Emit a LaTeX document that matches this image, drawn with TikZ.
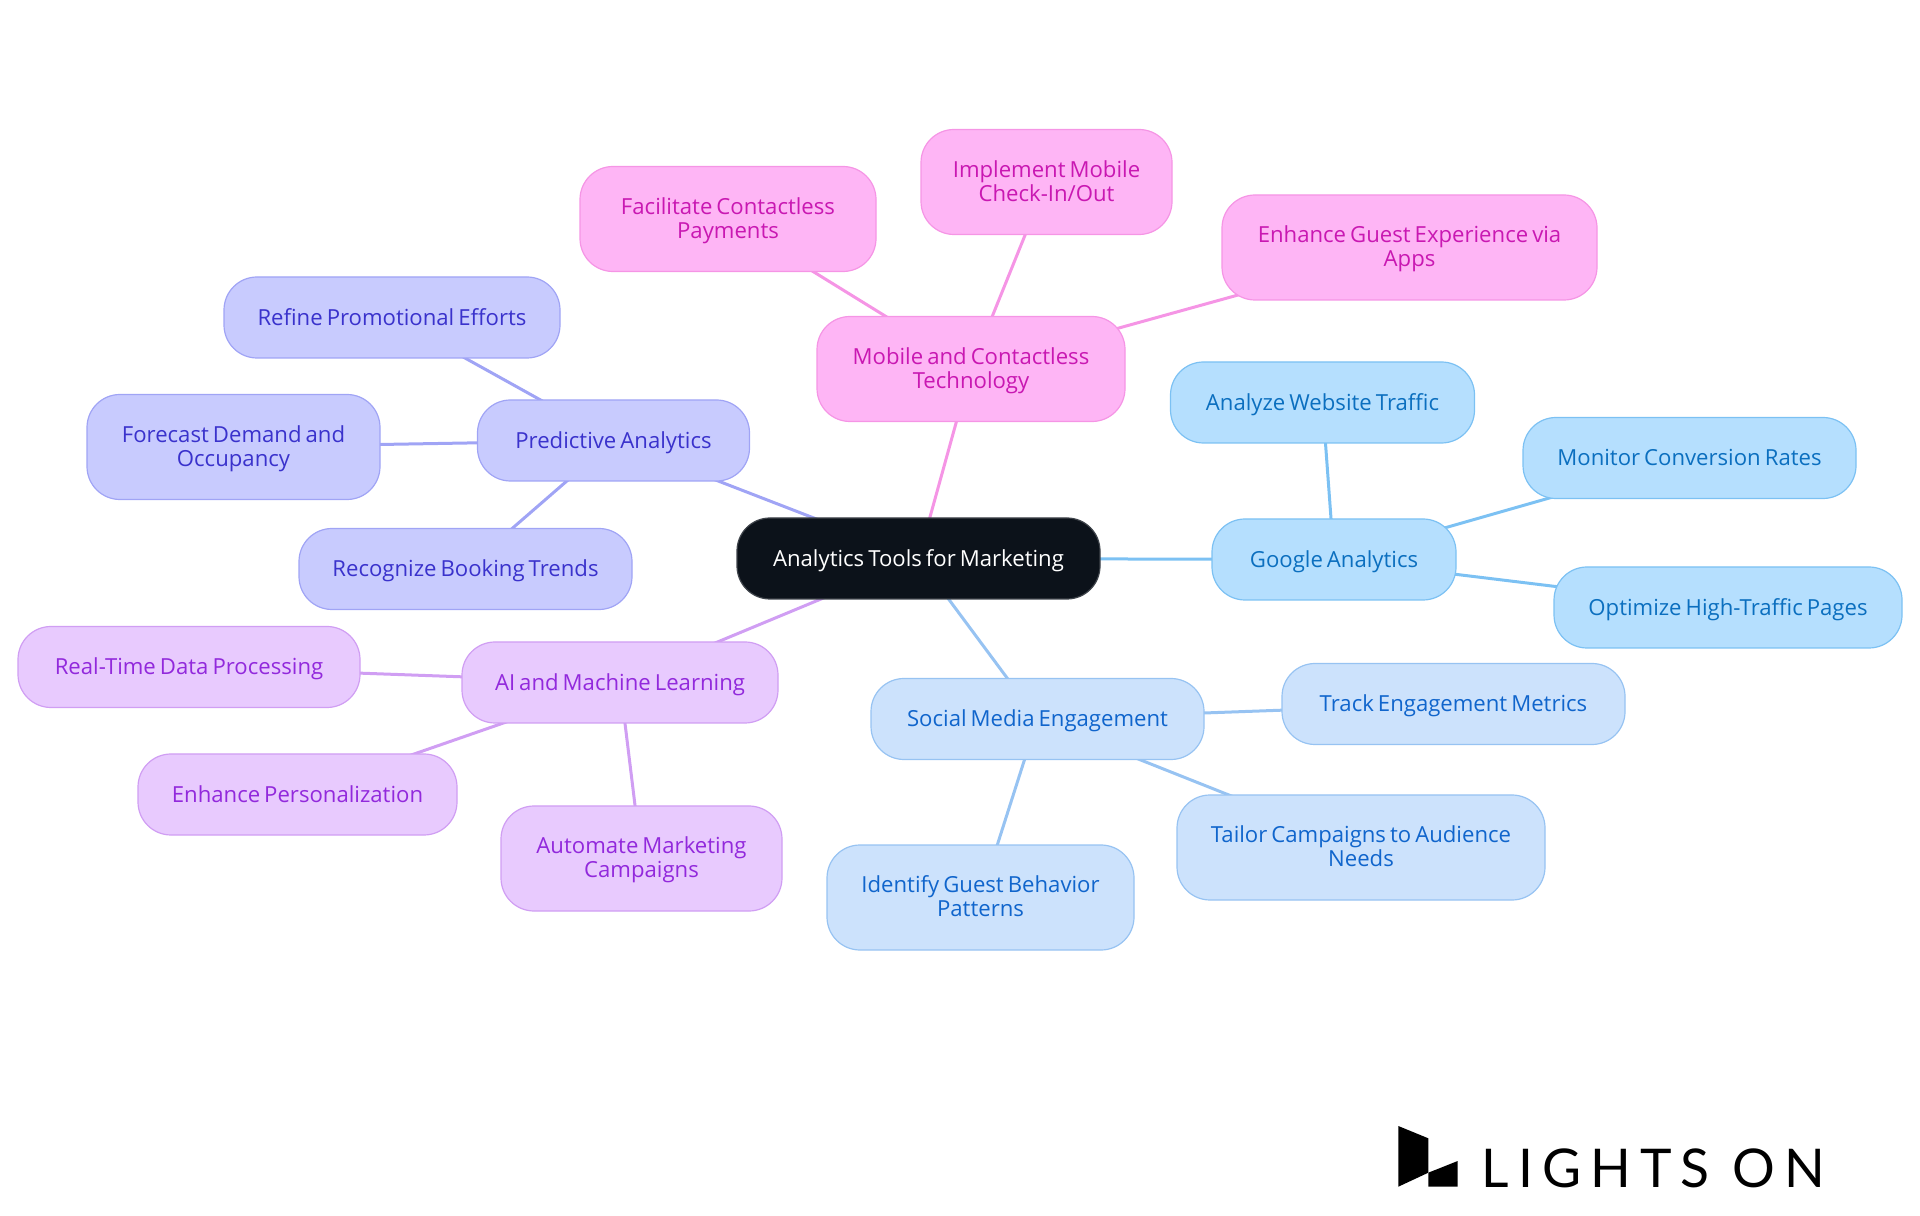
\documentclass[tikz,border=0pt]{standalone}
\usepackage{fontspec}
\setmainfont[WordSpace=0.7]{Open Sans}
\newfontfamily\logofont[LetterSpace=17]{Lato}
\usetikzlibrary{backgrounds}
\newcommand{\mapstrut}{\rule[-0.054cm]{0pt}{0.264cm}}
\definecolor{rootfill}{HTML}{0C121A}
\definecolor{rootline}{HTML}{3F444B}
\definecolor{gafill}{HTML}{B5DFFE}
\definecolor{galine}{HTML}{7CC1F3}
\definecolor{gatext}{HTML}{0B6FBF}
\definecolor{socfill}{HTML}{CCE2FC}
\definecolor{socline}{HTML}{97C3F2}
\definecolor{soctext}{HTML}{1065CC}
\definecolor{aifill}{HTML}{E8CAFE}
\definecolor{ailine}{HTML}{D09EF3}
\definecolor{aitext}{HTML}{9229DC}
\definecolor{predfill}{HTML}{C8CBFE}
\definecolor{predline}{HTML}{A0A4F5}
\definecolor{predtext}{HTML}{3A32CC}
\definecolor{mobfill}{HTML}{FEB5F5}
\definecolor{mobline}{HTML}{F595E5}
\definecolor{mobtext}{HTML}{C918B2}
\tikzset{
	mapbox/.style={draw, line width=0.012cm, rounded corners=0.33cm, inner sep=0, align=center, minimum height=0.81cm, font=\fontsize{6.3}{6.83}\selectfont, execute at begin node=\mapstrut, execute at end node=\mapstrut},
	tallbox/.style={minimum height=1.05cm, text height=0.435cm, text depth=0.054cm},
	rootbox/.style={mapbox, fill=rootfill, draw=rootline, text=white},
	gabox/.style={mapbox, fill=gafill, draw=galine, text=gatext},
	socbox/.style={mapbox, fill=socfill, draw=socline, text=soctext},
	aibox/.style={mapbox, fill=aifill, draw=ailine, text=aitext},
	predbox/.style={mapbox, fill=predfill, draw=predline, text=predtext},
	mobbox/.style={mapbox, fill=mobfill, draw=mobline, text=mobtext},
	link/.style={line width=0.03cm}
}
\begin{document}
\begin{tikzpicture}
		\useasboundingbox (0, 0) rectangle (19.2, 12.15);
		\node [rootbox, minimum width=3.63cm] (root) at (9.185, 6.565) {Analytics Tools for Marketing};
		\node [gabox, minimum width=2.44cm] (google) at (13.34, 6.555) {Google Analytics};
		\node [gabox, minimum width=3.04cm] (traffic) at (13.225, 8.125) {Analyze Website Traffic};
		\node [gabox, minimum width=3.33cm] (conversion) at (16.895, 7.57) {Monitor Conversion Rates};
		\node [gabox, minimum width=3.48cm] (pages) at (17.28, 6.075) {Optimize High-Traffic Pages};
		\node [socbox, minimum width=3.33cm] (social) at (10.375, 4.96) {Social Media Engagement};
		\node [socbox, minimum width=3.43cm] (metrics) at (14.535, 5.11) {Track Engagement Metrics};
		\node [socbox, tallbox, minimum width=3.68cm] (tailor) at (13.61, 3.675) {Tailor Campaigns to Audience\\Needs};
		\node [socbox, tallbox, minimum width=3.07cm] (behavior) at (9.805, 3.175) {Identify Guest Behavior\\Patterns};
		\node [aibox, minimum width=3.16cm] (ai) at (6.2, 5.325) {AI and Machine Learning};
		\node [aibox, minimum width=3.42cm] (realtime) at (1.89, 5.48) {Real-Time Data Processing};
		\node [aibox, minimum width=3.19cm] (personal) at (2.975, 4.205) {Enhance Personalization};
		\node [aibox, tallbox, minimum width=2.81cm] (automate) at (6.415, 3.565) {Automate Marketing\\Campaigns};
		\node [predbox, minimum width=2.72cm] (predict) at (6.135, 7.745) {Predictive Analytics};
		\node [predbox, minimum width=3.36cm] (refine) at (3.92, 8.975) {Refine Promotional Efforts};
		\node [predbox, tallbox, minimum width=2.93cm] (forecast) at (2.335, 7.68) {Forecast Demand and\\Occupancy};
		\node [predbox, minimum width=3.33cm] (booking) at (4.655, 6.46) {Recognize Booking Trends};
		\node [mobbox, tallbox, minimum width=3.08cm] (mobile) at (9.71, 8.46) {Mobile and Contactless\\Technology};
		\node [mobbox, tallbox, minimum width=2.96cm] (payments) at (7.28, 9.96) {Facilitate Contactless\\Payments};
		\node [mobbox, tallbox, minimum width=2.51cm] (checkin) at (10.465, 10.33) {Implement Mobile\\Check-In/Out};
		\node [mobbox, tallbox, minimum width=3.75cm] (apps) at (14.095, 9.675) {Enhance Guest Experience via\\Apps};
		\begin{scope}[on background layer]
			\draw [link, galine] (root.center) to (google.center);
			\draw [link, galine] (google.center) to (traffic.center);
			\draw [link, galine] (google.center) to (conversion.center);
			\draw [link, galine] (google.center) to (pages.center);
			\draw [link, socline] (root.center) to (social.center);
			\draw [link, socline] (social.center) to (metrics.center);
			\draw [link, socline] (social.center) to (tailor.center);
			\draw [link, socline] (social.center) to (behavior.center);
			\draw [link, ailine] (root.center) to (ai.center);
			\draw [link, ailine] (ai.center) to (realtime.center);
			\draw [link, ailine] (ai.center) to (personal.center);
			\draw [link, ailine] (ai.center) to (automate.center);
			\draw [link, predline] (root.center) to (predict.center);
			\draw [link, predline] (predict.center) to (refine.center);
			\draw [link, predline] (predict.center) to (forecast.center);
			\draw [link, predline] (predict.center) to (booking.center);
			\draw [link, mobline] (root.center) to (mobile.center);
			\draw [link, mobline] (mobile.center) to (payments.center);
			\draw [link, mobline] (mobile.center) to (checkin.center);
			\draw [link, mobline] (mobile.center) to (apps.center);
		\end{scope}
		% logo
		\fill [black] (13.983, 0.89) -- (14.283, 0.767) -- (14.283, 0.423) -- (13.983, 0.283) -- cycle;
		\fill [black] (14.283, 0.423) -- (14.577, 0.54) -- (14.577, 0.283) -- (14.283, 0.283) -- cycle;
		\node [anchor=base west, inner sep=0, font=\logofont\fontsize{15.2}{16}\selectfont] (logo) at (14.81, 0.28) {LIGHTS ON};
\end{tikzpicture}
\end{document}
